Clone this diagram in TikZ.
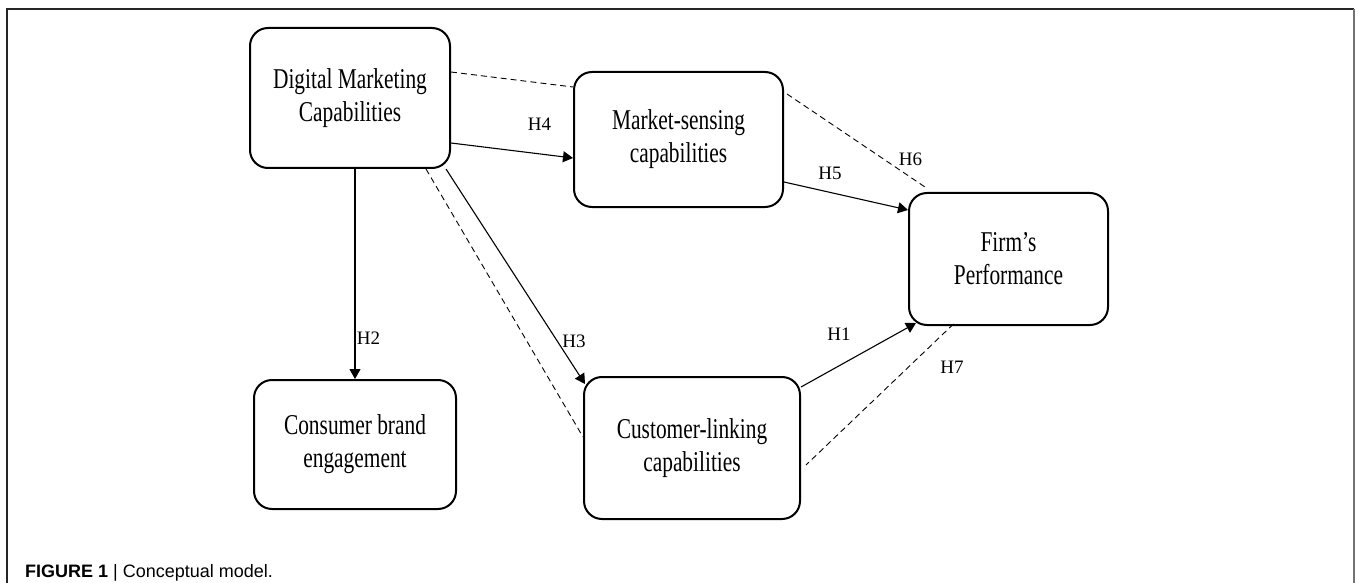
\documentclass[tikz,border=0pt]{standalone}
\usepackage{fontspec}
\setmainfont{Liberation Serif}
\newfontfamily\boxfont[FakeStretch=0.745]{Liberation Serif}
\newfontfamily\labfont{Liberation Serif}
\newfontfamily\capfont{Liberation Sans}
\usetikzlibrary{arrows.meta,calc}
\begin{document}
\begin{tikzpicture}[x=1pt,y=-1pt,
  box/.style={draw, line width=2pt, rounded corners=18pt, align=center, inner sep=0pt,
    font=\boxfont\fontsize{28.7}{33}\selectfont},
  link/.style={line width=1.1pt, -{Triangle[length=10pt,width=11pt]}},
  dlink/.style={line width=0.9pt, dash pattern=on 6pt off 4pt},
  hlab/.style={inner sep=0pt, font=\labfont\fontsize{19}{22}\selectfont},
  framel/.style={line width=1.3pt, black!85}]
\useasboundingbox (0,0) rectangle (1358,583);
% frame
\draw[framel] (7,583) -- (7,9) -- (1354,9);
\draw[line width=2pt, black!55] (1354,9) -- (1354,583);
% boxes
\node[box, minimum width=200pt, minimum height=140pt] (dmc) at (350,98) {Digital Marketing\\Capabilities};
\node[box, minimum width=209pt, minimum height=135pt] (msc) at (678.5,139.5) {Market-sensing\\capabilities};
\node[box, minimum width=199pt, minimum height=132pt] (firm) at (1008.5,259) {Firm’s\\Performance};
\node[box, minimum width=202pt, minimum height=129pt] (cbe) at (355,444.5) {Consumer brand\\engagement};
\node[box, minimum width=216pt, minimum height=142pt] (clc) at (692,448) {Customer-linking\\capabilities};
% solid connectors
\draw[link] (cbe.north |- dmc.south) -- (cbe.north);
\draw[link] ([yshift=-45pt]dmc.east) -- ([yshift=-18.5pt]msc.west);
\draw[link] ([xshift=-5pt]dmc.south east) -- ([xshift=2pt,yshift=-8pt]clc.north west);
\draw[link] ([yshift=-42.5pt]msc.east) -- ([yshift=49pt]firm.west);
\draw[link] ([yshift=-11pt]clc.north east) -- ([xshift=8pt,yshift=3pt]firm.south west);
% dashed connectors
\draw[dlink] ([yshift=26pt]dmc.east) -- ([yshift=52.5pt]msc.west);
\draw[dlink] ([xshift=-25pt]dmc.south east) -- ([yshift=11pt]clc.west);
\draw[dlink] ([xshift=3pt,yshift=45.5pt]msc.east) -- ([xshift=17pt,yshift=5pt]firm.north west);
\draw[dlink] ([xshift=-55pt,yshift=2pt]firm.south) -- ([xshift=5pt,yshift=-17pt]clc.east);
% labels
\node[hlab] (h1) at (839,334) {H1};
\node[hlab] (h2) at (368.5,338.5) {H2};
\node[hlab] (h3) at (574,341) {H3};
\node[hlab] (h4) at (539.5,124.5) {H4};
\node[hlab] (h5) at (830,173) {H5};
\node[hlab] (h6) at (910.5,159) {H6};
\node[hlab] (h7) at (952,367) {H7};
% caption
\node[anchor=base west, inner sep=0pt, font=\capfont\fontsize{18}{21}\selectfont] (cap) at (25,577)
  {{\bfseries FIGURE 1} | Conceptual model.};
\end{tikzpicture}
\end{document}
